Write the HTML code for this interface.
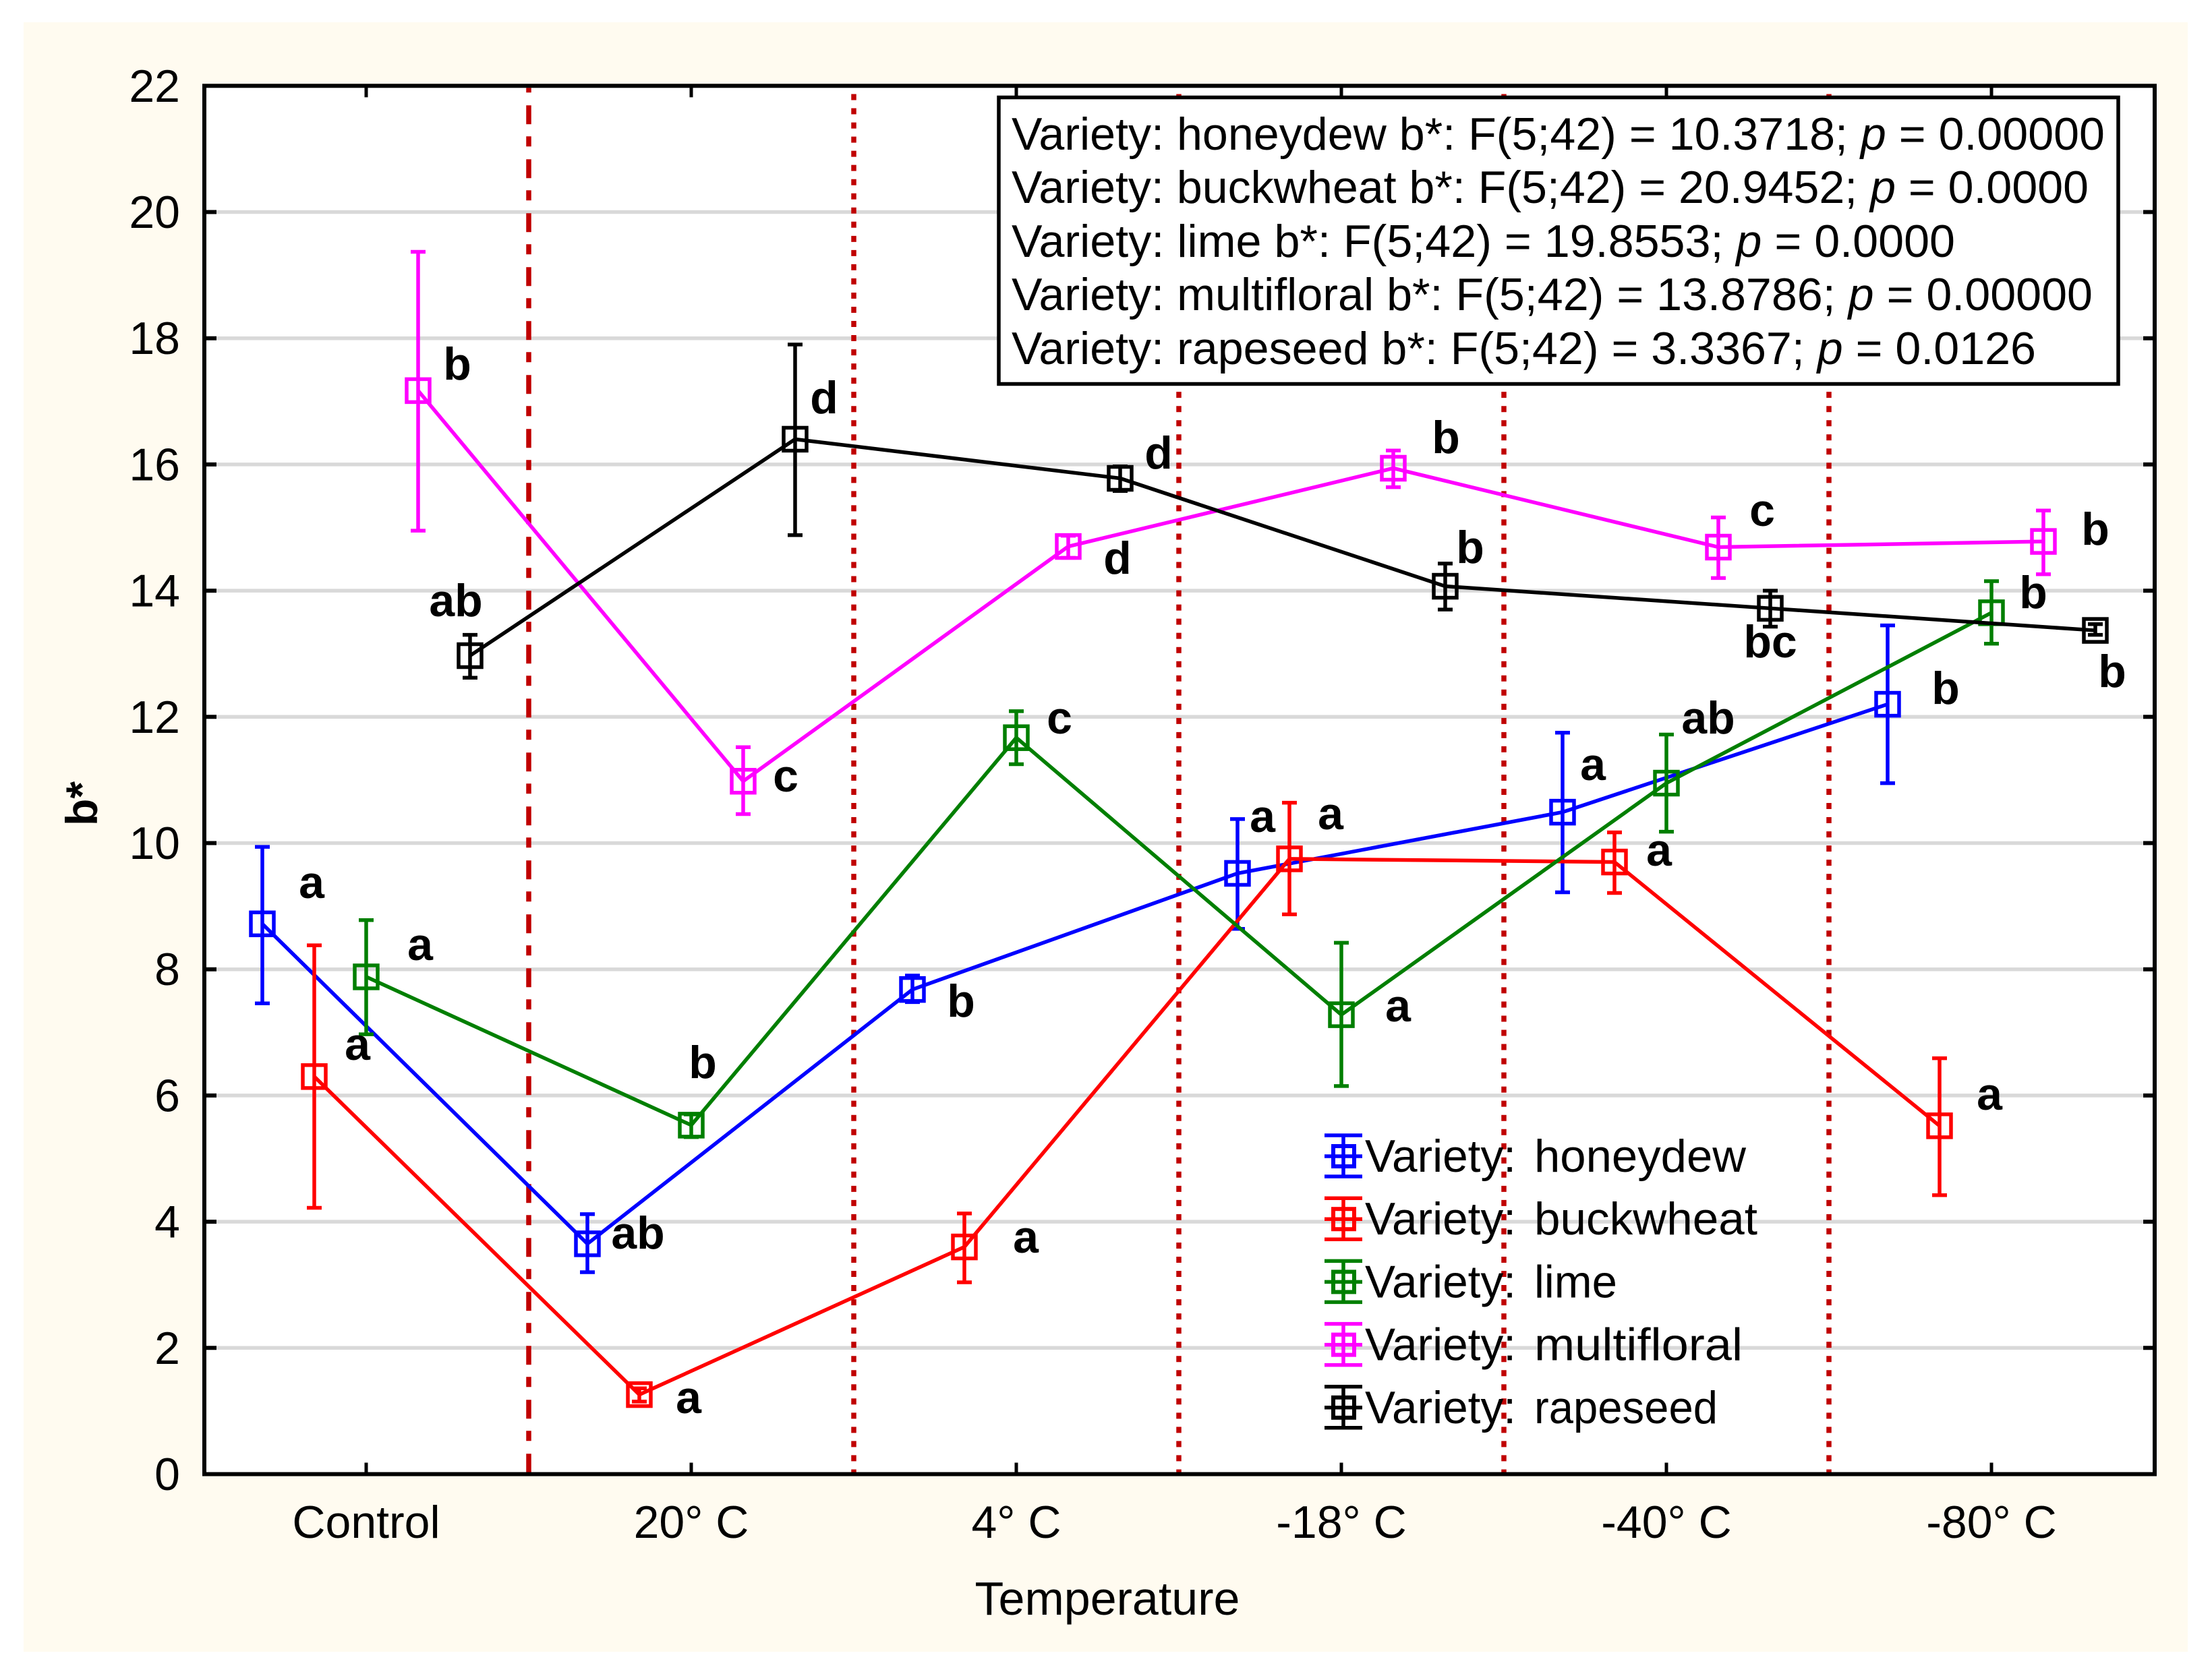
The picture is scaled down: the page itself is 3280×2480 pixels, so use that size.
<!DOCTYPE html>
<html lang="en">
<head>
<meta charset="utf-8">
<title>b* by temperature and honey variety</title>
<style>
html,body{margin:0;padding:0;background:#fff;width:3280px;height:2480px;overflow:hidden}
svg{display:block;font-family:"Liberation Sans",Arial,sans-serif}
.ann{font-size:68px;font-weight:bold;text-anchor:middle;fill:#000}
.tick{font-size:68px;fill:#000}
.title{font-size:70px;fill:#000}
.info{font-size:68px;fill:#000}
.leg{font-size:68px;fill:#000}
</style>
</head>
<body>
<svg id="chart" xmlns="http://www.w3.org/2000/svg" width="3280" height="2480" viewBox="0 0 3280 2480">
  <rect x="0" y="0" width="3280" height="2480" fill="#ffffff"/>
  <rect x="35" y="33" width="3209" height="2417" fill="#FFFBF0"/>
  <rect x="303" y="127" width="2892" height="2059" fill="#ffffff"/>
  <g id="grid"></g>
  <g id="dividers"></g>
  <g id="series"></g>
  <g id="axes"></g>

  <text class="title" x="1642" y="2395" text-anchor="middle">Temperature</text>
  <text x="144" y="1192" font-size="66" font-weight="bold" text-anchor="middle" transform="rotate(-90 144 1192)">b*</text>

  <g>
    <text class="ann" x="678" y="563">b</text>
    <text class="ann" x="1165" y="1174">c</text>
    <text class="ann" x="1657" y="851">d</text>
    <text class="ann" x="2144" y="672">b</text>
    <text class="ann" x="2613" y="780">c</text>
    <text class="ann" x="3107" y="808">b</text>
    <text class="ann" x="676" y="914">ab</text>
    <text class="ann" x="1222" y="613">d</text>
    <text class="ann" x="1718" y="695">d</text>
    <text class="ann" x="2180" y="835">b</text>
    <text class="ann" x="2625" y="975">bc</text>
    <text class="ann" x="3132" y="1019">b</text>
    <text class="ann" x="462" y="1332">a</text>
    <text class="ann" x="946" y="1852">ab</text>
    <text class="ann" x="1425" y="1508">b</text>
    <text class="ann" x="1872" y="1234">a</text>
    <text class="ann" x="2362" y="1157">a</text>
    <text class="ann" x="2885" y="1044">b</text>
    <text class="ann" x="530" y="1572">a</text>
    <text class="ann" x="1021" y="2096">a</text>
    <text class="ann" x="1521" y="1858">a</text>
    <text class="ann" x="1973" y="1230">a</text>
    <text class="ann" x="2460" y="1284">a</text>
    <text class="ann" x="2950" y="1646">a</text>
    <text class="ann" x="623" y="1424">a</text>
    <text class="ann" x="1042" y="1599">b</text>
    <text class="ann" x="1571" y="1088">c</text>
    <text class="ann" x="2073" y="1515">a</text>
    <text class="ann" x="2533" y="1088">ab</text>
    <text class="ann" x="3015" y="902">b</text>
  </g>

  <g>
    <rect x="1481" y="144.5" width="1660" height="425" fill="#ffffff" stroke="#000" stroke-width="5.5"/>
    <text class="info" x="1500" y="222" textLength="1621" lengthAdjust="spacingAndGlyphs">Variety: honeydew b*: F(5;42) = 10.3718; <tspan font-style="italic">p</tspan> = 0.00000</text>
    <text class="info" x="1500" y="301" textLength="1597" lengthAdjust="spacingAndGlyphs">Variety: buckwheat b*: F(5;42) = 20.9452; <tspan font-style="italic">p</tspan> = 0.0000</text>
    <text class="info" x="1500" y="381" textLength="1399" lengthAdjust="spacingAndGlyphs">Variety: lime b*: F(5;42) = 19.8553; <tspan font-style="italic">p</tspan> = 0.0000</text>
    <text class="info" x="1500" y="460" textLength="1603" lengthAdjust="spacingAndGlyphs">Variety: multifloral b*: F(5;42) = 13.8786; <tspan font-style="italic">p</tspan> = 0.00000</text>
    <text class="info" x="1500" y="540" textLength="1519" lengthAdjust="spacingAndGlyphs">Variety: rapeseed b*: F(5;42) = 3.3367; <tspan font-style="italic">p</tspan> = 0.0126</text>
  </g>

  <g id="legend"></g>
</svg>

<script>
// ---- chart data ----
const categories = ["Control", "20° C", "4° C", "-18° C", "-40° C", "-80° C"];
const yTicks = [0, 2, 4, 6, 8, 10, 12, 14, 16, 18, 20, 22];

const varietyNames = ["honeydew", "buckwheat", "lime", "multifloral", "rapeseed"];

const honeydewMeans = [8.72, 3.65, 7.68, 9.52, 10.49, 12.2];
const honeydewUpper = [9.94, 4.12, 7.9, 10.38, 11.75, 13.45];
const honeydewLower = [7.46, 3.2, 7.48, 8.64, 9.22, 10.95];

const buckwheatMeans = [6.3, 1.26, 3.6, 9.75, 9.7, 5.52];
const buckwheatUpper = [8.38, 1.36, 4.13, 10.64, 10.17, 6.59];
const buckwheatLower = [4.22, 1.15, 3.04, 8.87, 9.21, 4.42];

const limeMeans = [7.88, 5.53, 11.67, 7.28, 10.95, 13.65];
const limeUpper = [8.78, 5.7, 12.09, 8.42, 11.72, 14.15];
const limeLower = [6.97, 5.34, 11.25, 6.15, 10.18, 13.16];

const multifloralMeans = [17.17, 10.98, 14.7, 15.94, 14.69, 14.78];
const multifloralUpper = [19.37, 11.52, 14.87, 16.22, 15.16, 15.27];
const multifloralLower = [14.95, 10.46, 14.52, 15.64, 14.2, 14.26];

const rapeseedMeans = [12.97, 16.4, 15.78, 14.07, 13.72, 13.37];
const rapeseedUpper = [13.3, 17.9, 15.97, 14.43, 14.0, 13.47];
const rapeseedLower = [12.62, 14.88, 15.58, 13.7, 13.43, 13.3];

// ---- layout ----
const NS = "http://www.w3.org/2000/svg";
const plot = { left: 303, right: 3195, top: 127.3, bottom: 2186.5 };
const yMax = 22;
const firstCategoryX = 543;
const categoryStep = 482;
const seriesStep = 77;
const seriesColors = ["#0000FF", "#FF0000", "#007F00", "#FF00FF", "#000000"];
const legendLengths = [314, 331, 123, 309, 272];

function yScale(v) {
  return plot.bottom - (v / yMax) * (plot.bottom - plot.top);
}
function xCategory(i) {
  return firstCategoryX + i * categoryStep;
}
function xSeries(i, s) {
  return xCategory(i) + (s - 2) * seriesStep;
}
function make(tag, parent, attrs) {
  const el = document.createElementNS(NS, tag);
  for (const k in attrs) el.setAttribute(k, attrs[k]);
  parent.appendChild(el);
  return el;
}

const gridG = document.getElementById("grid");
const dividerG = document.getElementById("dividers");
const seriesG = document.getElementById("series");
const axesG = document.getElementById("axes");
const legendG = document.getElementById("legend");

// gridlines
yTicks.forEach(function (t) {
  if (t === 0 || t === yMax) return;
  const y = yScale(t);
  const g = make("line", gridG, { x1: plot.left, x2: plot.right, y1: y, y2: y, stroke: "#D9D9D9", "stroke-width": 5.5 });
  
  
});

// temperature dividers between categories
categories.forEach(function (c, i) {
  if (i === categories.length - 1) return;
  const x = xCategory(i) + categoryStep / 2;
  const first = i === 0;
  const d = make("line", dividerG, {
    x1: x, x2: x, y1: plot.top + 3, y2: plot.bottom - 3,
    stroke: "#C00000", "stroke-width": 7.5,
    "stroke-dasharray": first ? "28 18 15 19" : "9 12.03",
    "stroke-dashoffset": first ? 54 : 11.8
  });
  
  
});

// series
const seriesMeans = [honeydewMeans, buckwheatMeans, limeMeans, multifloralMeans, rapeseedMeans];
const seriesUpper = [honeydewUpper, buckwheatUpper, limeUpper, multifloralUpper, rapeseedUpper];
const seriesLower = [honeydewLower, buckwheatLower, limeLower, multifloralLower, rapeseedLower];

seriesMeans.forEach(function (means, s) {
  const color = seriesColors[s];
  const group = make("g", seriesG, {});
  
  

  const pts = means.map(function (v, i) { return xSeries(i, s) + "," + yScale(v); }).join(" ");
  const line = make("polyline", group, { points: pts, fill: "none", stroke: color, "stroke-width": 5.5 });
  
  

  means.forEach(function (v, i) {
    const x = xSeries(i, s);
    const yU = yScale(seriesUpper[s][i]);
    const yL = yScale(seriesLower[s][i]);
    const y = yScale(v);

    const bar = make("path", group, {
      d: "M" + x + " " + yU + "V" + yL + "M" + (x - 11) + " " + yU + "H" + (x + 11) + "M" + (x - 11) + " " + yL + "H" + (x + 11),
      fill: "none", stroke: color, "stroke-width": 5.5
    });
    
    

    const marker = make("rect", group, { x: x - 17, y: y - 17, width: 34, height: 34, fill: "none", stroke: color, "stroke-width": 5.5 });
    
    
  });
});

// axes frame and ticks
const frame = make("rect", axesG, { x: plot.left, y: plot.top, width: plot.right - plot.left, height: plot.bottom - plot.top, fill: "none", stroke: "#000", "stroke-width": 6 });



yTicks.forEach(function (t) {
  const y = yScale(t);
  if (t !== 0 && t !== yMax) {
    const l = make("line", axesG, { x1: plot.left, x2: plot.left + 18, y1: y, y2: y, stroke: "#000", "stroke-width": 6 });
    
    
    const r = make("line", axesG, { x1: plot.right - 17, x2: plot.right, y1: y, y2: y, stroke: "#000", "stroke-width": 6 });
    
    
  }
  const lab = make("text", axesG, { class: "tick", x: 267, y: y + 23.5, "text-anchor": "end" });
  lab.textContent = t;
  
  
});

categories.forEach(function (c, i) {
  const x = xCategory(i);
  const top = make("line", axesG, { x1: x, x2: x, y1: plot.top, y2: plot.top + 17, stroke: "#000", "stroke-width": 5 });
  
  
  const bot = make("line", axesG, { x1: x, x2: x, y1: plot.bottom - 17, y2: plot.bottom, stroke: "#000", "stroke-width": 5 });
  
  
  const lab = make("text", axesG, { class: "tick", x: x, y: 2281, "text-anchor": "middle" });
  lab.textContent = c;
  
  
});

// legend
varietyNames.forEach(function (name, s) {
  const color = seriesColors[s];
  const cy = 1715 + s * 93.2;
  const entry = make("g", legendG, {});
  
  
  const icon = make("path", entry, {
    d: "M1964 " + (cy - 31) + "H2020M1964 " + cy + "H2020M1964 " + (cy + 30) + "H2020M1992 " + (cy - 31) + "V" + (cy + 30),
    fill: "none", stroke: color, "stroke-width": 5.5
  });
  
  
  const box = make("rect", entry, { x: 1977, y: cy - 15, width: 31, height: 30, fill: "none", stroke: color, "stroke-width": 6 });
  
  
  const prefix = make("text", entry, { class: "leg", x: 2024, y: cy + 23, textLength: 224, lengthAdjust: "spacingAndGlyphs" });
  prefix.textContent = "Variety:";
  
  
  const label = make("text", entry, { class: "leg", x: 2275, y: cy + 23, textLength: legendLengths[s], lengthAdjust: "spacingAndGlyphs" });
  label.textContent = name;
  
  
});
</script>
</body>
</html>
